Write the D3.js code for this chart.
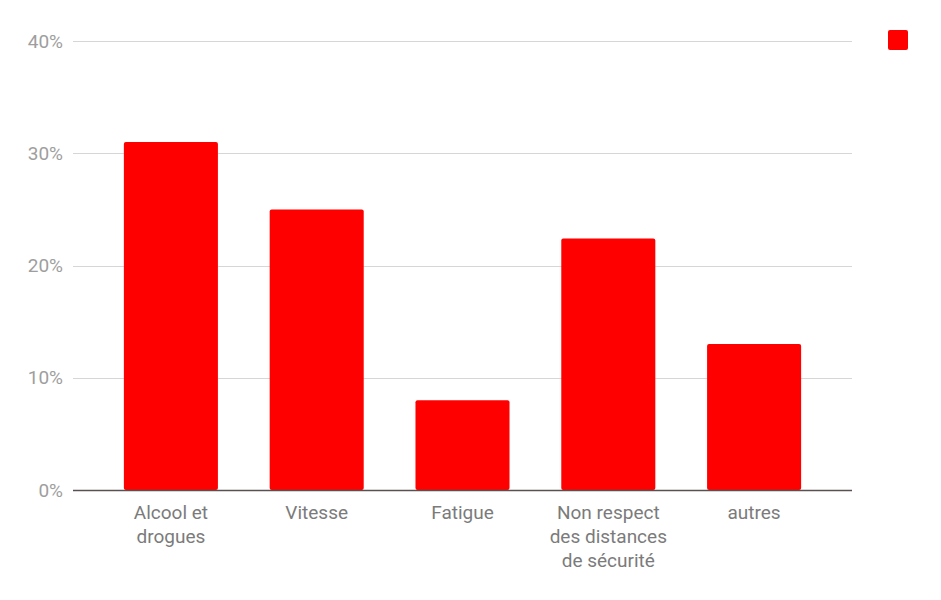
<!DOCTYPE html>
<html lang="fr">
<head>
    <meta charset="UTF-8">
    <title>Causes des accidents</title>
    <script src="https://d3js.org/d3.v7.min.js"></script>
    <style>
        body {
            margin: 0;
            background: #fff;
            font-family: Roboto, Arial, sans-serif;
        }
        .grid line {
            stroke: #d6d6d6;
            stroke-width: 1px;
        }
        .ylabel {
            fill: #9e9e9e;
            font-size: 19px;
        }
        .xlabel {
            fill: #7b7b7b;
            font-size: 19px;
        }
    </style>
</head>
<body>
    <svg width="941" height="600"></svg>

    <script>
        const categories = ["Alcool et drogues", "Vitesse", "Fatigue", "Non respect des distances de sécurité", "autres"];
        const labelLines = [
            ["Alcool et", "drogues"],
            ["Vitesse"],
            ["Fatigue"],
            ["Non respect", "des distances", "de sécurité"],
            ["autres"]
        ];
        const values = [0.31, 0.25, 0.08, 0.224, 0.13];
        const yTicks = [0, 0.1, 0.2, 0.3, 0.4];

        const svg = d3.select("svg");

        const x = d3.scaleBand()
            .domain(categories)
            .range([98, 827])
            .paddingInner(0.355)
            .paddingOuter(0.1775);

        const y = d3.scaleLinear()
            .domain([0, 0.4])
            .range([490, 41]);

        const gridLeft = 73, gridRight = 852;

        // gridlines
        svg.append("g").attr("class", "grid")
            .selectAll("line")
            .data(yTicks.filter(d => d > 0))
            .enter().append("line")
            .attr("x1", gridLeft)
            .attr("x2", gridRight)
            .attr("y1", d => Math.round(y(d)) + 0.5)
            .attr("y2", d => Math.round(y(d)) + 0.5);

        // y labels
        svg.append("g")
            .selectAll("text")
            .data(yTicks)
            .enter().append("text")
            .attr("class", "ylabel")
            .attr("x", 63)
            .attr("y", d => y(d))
            .attr("dy", "0.35em")
            .attr("text-anchor", "end")
            .text(d => d3.format(".0%")(d));

        // bars
        svg.append("g")
            .selectAll("rect")
            .data(values)
            .enter().append("rect")
            .attr("x", (d, i) => x(categories[i]))
            .attr("y", d => y(d))
            .attr("width", x.bandwidth())
            .attr("height", d => y(0) - y(d))
            .attr("rx", 2)
            .attr("fill", "#ff0000");

        // baseline
        svg.append("line")
            .attr("x1", gridLeft)
            .attr("x2", gridRight)
            .attr("y1", y(0) + 0.5)
            .attr("y2", y(0) + 0.5)
            .attr("stroke", "#5a5050")
            .attr("stroke-width", 1.5);

        // x labels
        const xl = svg.append("g")
            .selectAll("text")
            .data(categories)
            .enter().append("text")
            .attr("class", "xlabel")
            .attr("text-anchor", "middle")
            .attr("x", d => x(d) + x.bandwidth() / 2)
            .attr("y", 519);

        xl.each(function(d, i) {
            const t = d3.select(this);
            labelLines[i].forEach((line, j) => {
                t.append("tspan")
                    .attr("x", x(d) + x.bandwidth() / 2)
                    .attr("dy", j === 0 ? 0 : 24)
                    .text(line);
            });
        });

        // legend (no series name)
        svg.append("rect")
            .attr("x", 888)
            .attr("y", 30)
            .attr("width", 20)
            .attr("height", 20)
            .attr("rx", 2)
            .attr("fill", "#ff0000");
    </script>
</body>
</html>
